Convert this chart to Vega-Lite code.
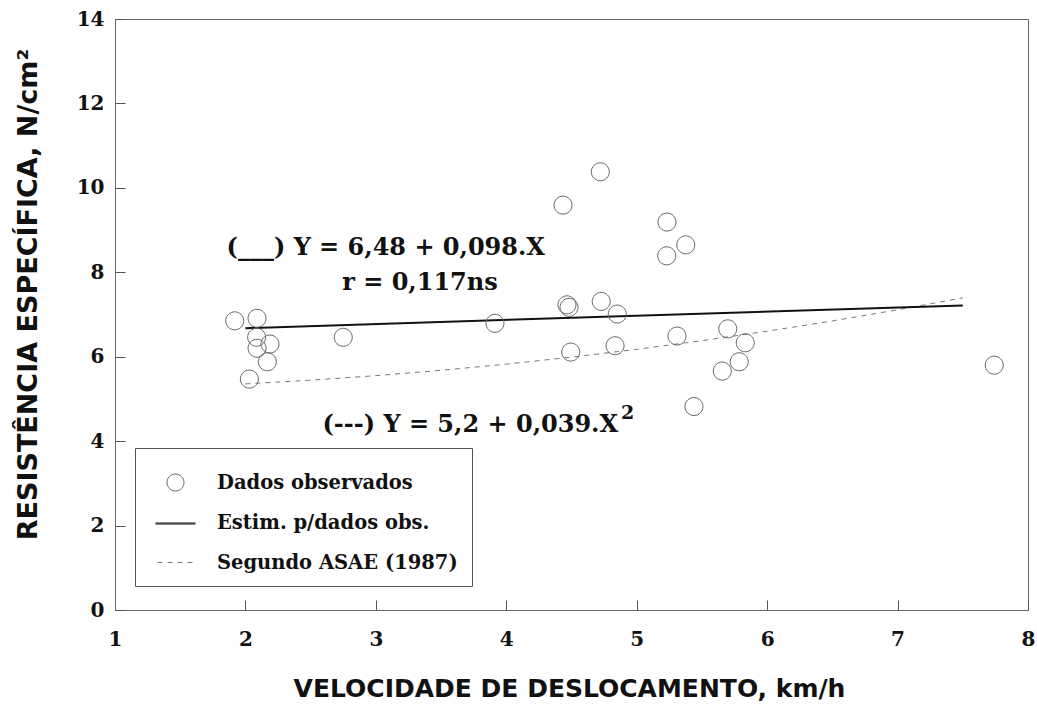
{
  "$schema": "https://vega.github.io/schema/vega-lite/v6.json",
  "width": 913,
  "height": 591,
  "autosize": {"type": "none"},
  "padding": {"left": 115, "top": 19, "right": 9, "bottom": 94},
  "background": "white",
  "config": {
    "view": {"stroke": "#666", "strokeWidth": 1},
    "axis": {
      "grid": false,
      "domainColor": "#666",
      "tickColor": "#555",
      "tickSize": -10,
      "tickWidth": 1,
      "labelFont": "DejaVu Serif",
      "labelFontWeight": "bold",
      "labelFontSize": 20,
      "labelColor": "#111",
      "titleFont": "DejaVu Sans",
      "titleFontWeight": "bold",
      "titleFontSize": 25,
      "titleColor": "#111",
      "labelOverlap": false,
      "labelFlush": false,
      "labelBound": false
    }
  },
  "datasets": {
    "obs": [
      {"x": 1.918, "y": 6.85, "serie": "Dados observados"},
      {"x": 2.089, "y": 6.91, "serie": "Dados observados"},
      {"x": 2.086, "y": 6.46, "serie": "Dados observados"},
      {"x": 2.089, "y": 6.2, "serie": "Dados observados"},
      {"x": 2.188, "y": 6.3, "serie": "Dados observados"},
      {"x": 2.168, "y": 5.88, "serie": "Dados observados"},
      {"x": 2.03, "y": 5.47, "serie": "Dados observados"},
      {"x": 2.75, "y": 6.46, "serie": "Dados observados"},
      {"x": 3.913, "y": 6.79, "serie": "Dados observados"},
      {"x": 4.435, "y": 9.59, "serie": "Dados observados"},
      {"x": 4.721, "y": 10.38, "serie": "Dados observados"},
      {"x": 4.465, "y": 7.23, "serie": "Dados observados"},
      {"x": 4.481, "y": 7.17, "serie": "Dados observados"},
      {"x": 4.728, "y": 7.31, "serie": "Dados observados"},
      {"x": 4.851, "y": 7.01, "serie": "Dados observados"},
      {"x": 4.494, "y": 6.11, "serie": "Dados observados"},
      {"x": 4.834, "y": 6.26, "serie": "Dados observados"},
      {"x": 5.232, "y": 9.19, "serie": "Dados observados"},
      {"x": 5.376, "y": 8.65, "serie": "Dados observados"},
      {"x": 5.23, "y": 8.39, "serie": "Dados observados"},
      {"x": 5.309, "y": 6.49, "serie": "Dados observados"},
      {"x": 5.439, "y": 4.82, "serie": "Dados observados"},
      {"x": 5.698, "y": 6.66, "serie": "Dados observados"},
      {"x": 5.832, "y": 6.33, "serie": "Dados observados"},
      {"x": 5.786, "y": 5.88, "serie": "Dados observados"},
      {"x": 5.656, "y": 5.66, "serie": "Dados observados"},
      {"x": 7.741, "y": 5.8, "serie": "Dados observados"}
    ],
    "estim": [
      {"x": 2.0, "y": 6.676},
      {"x": 7.5, "y": 7.215}
    ],
    "asae": [
      {"x": 2.0, "y": 5.356},
      {"x": 2.5, "y": 5.444},
      {"x": 3.0, "y": 5.551},
      {"x": 3.5, "y": 5.678},
      {"x": 4.0, "y": 5.824},
      {"x": 4.5, "y": 5.99},
      {"x": 5.0, "y": 6.175},
      {"x": 5.5, "y": 6.38},
      {"x": 6.0, "y": 6.604},
      {"x": 6.5, "y": 6.848},
      {"x": 7.0, "y": 7.111},
      {"x": 7.5, "y": 7.394}
    ],
    "notasCentro": [
      {"x": 3.076, "y": 8.576, "t": "(___) Y = 6,48 + 0,098.X"},
      {"x": 3.338, "y": 7.747, "t": "r = 0,117ns"}
    ],
    "notaAsae": [
      {"x": 4.857, "y": 4.383, "t": "(---) Y = 5,2 + 0,039.X"}
    ],
    "expoente": [
      {"x": 4.879, "y": 4.667, "t": "2"}
    ]
  },
  "encoding": {
    "x": {
      "field": "x",
      "type": "quantitative",
      "scale": {"domain": [1, 8], "nice": false, "zero": false},
      "axis": {
        "title": "VELOCIDADE DE DESLOCAMENTO, km/h",
        "values": [1, 2, 3, 4, 5, 6, 7, 8],
        "labelPadding": 29,
        "titleX": 454,
        "titleY": 78,
        "titleAlign": "center",
        "titleBaseline": "middle"
      }
    },
    "y": {
      "field": "y",
      "type": "quantitative",
      "scale": {"domain": [0, 14], "nice": false, "zero": false},
      "axis": {
        "title": "RESISTÊNCIA ESPECÍFICA, N/cm²",
        "values": [0, 2, 4, 6, 8, 10, 12, 14],
        "labelPadding": 21,
        "titleX": -87,
        "titleY": 275,
        "titleFontSize": 27,
        "titleAlign": "center",
        "titleBaseline": "middle"
      }
    }
  },
  "layer": [
    {
      "data": {"name": "asae"},
      "mark": {"type": "line", "color": "#777", "strokeWidth": 1, "strokeDash": [5, 5]}
    },
    {
      "data": {"name": "estim"},
      "mark": {"type": "line", "color": "#111", "strokeWidth": 2}
    },
    {
      "data": {"name": "obs"},
      "mark": {"type": "point", "filled": false, "size": 1794, "strokeWidth": 1, "opacity": 1},
      "encoding": {
        "shape": {
          "field": "serie",
          "type": "nominal",
          "scale": {
            "domain": ["Dados observados", "Estim. p/dados obs.", "Segundo ASAE (1987)"],
            "range": [
              "M0.425,0A0.425,0.425,0,1,1,-0.425,0A0.425,0.425,0,1,1,0.425,0Z",
              "M-1,0H1M-1,0.05H1",
              "M-0.9,0H-0.65M-0.4,0H-0.15M0.1,0H0.35M0.6,0H0.85"
            ]
          },
          "legend": {
            "title": null,
            "orient": "none",
            "legendX": 20,
            "legendY": 429,
            "padding": 14,
            "symbolOffset": 6,
            "labelOffset": 21,
            "symbolSize": 1600,
            "symbolStrokeWidth": 1,
            "rowPadding": 9.5,
            "strokeColor": "#555",
            "fillColor": "white",
            "labelFont": "DejaVu Serif",
            "labelFontWeight": "bold",
            "labelFontSize": 19.5,
            "labelColor": "#111",
            "labelLimit": 400
          }
        },
        "color": {
          "field": "serie",
          "type": "nominal",
          "scale": {
            "domain": ["Dados observados", "Estim. p/dados obs.", "Segundo ASAE (1987)"],
            "range": ["#666", "#111", "#777"]
          },
          "legend": {
            "title": null,
            "orient": "none",
            "legendX": 20,
            "legendY": 429,
            "padding": 14,
            "symbolOffset": 6,
            "labelOffset": 21,
            "symbolSize": 1600,
            "symbolStrokeWidth": 1,
            "rowPadding": 9.5,
            "strokeColor": "#555",
            "fillColor": "white",
            "labelFont": "DejaVu Serif",
            "labelFontWeight": "bold",
            "labelFontSize": 19.5,
            "labelColor": "#111",
            "labelLimit": 400
          }
        }
      }
    },
    {
      "data": {"name": "notasCentro"},
      "mark": {"type": "text", "font": "DejaVu Serif", "fontWeight": "bold", "fontSize": 24, "color": "#111", "align": "center", "baseline": "middle"},
      "encoding": {"text": {"field": "t"}}
    },
    {
      "data": {"name": "notaAsae"},
      "mark": {"type": "text", "font": "DejaVu Serif", "fontWeight": "bold", "fontSize": 24, "color": "#111", "align": "right", "baseline": "middle"},
      "encoding": {"text": {"field": "t"}}
    },
    {
      "data": {"name": "expoente"},
      "mark": {"type": "text", "font": "DejaVu Serif", "fontWeight": "bold", "fontSize": 19, "color": "#111", "align": "left", "baseline": "middle"},
      "encoding": {"text": {"field": "t"}}
    }
  ]
}
